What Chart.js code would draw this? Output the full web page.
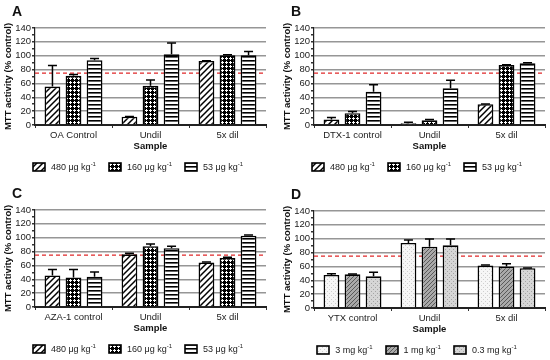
<!DOCTYPE html>
<html>
<head>
<meta charset="utf-8">
<script src="https://cdn.jsdelivr.net/npm/chart.js@4"></script>
<style>
body { margin: 0; background: #fff; font-family: 'Liberation Sans', Arial, sans-serif; }
#wrap { position: relative; width: 550px; height: 360px; }
.panel { position: absolute; width: 271px; height: 180px; }
.panel canvas.chart { position: absolute; left: 0; top: 0; }
.tag { position: absolute; left: 12px; top: 3px; font-weight: bold; font-size: 14px; line-height: 16px; color: #111; }
.legend { position: absolute; left: 0; width: 275px; top: 162px; display: flex; justify-content: center; gap: 12px; font-size: 9px; color: #222; }
.legend .item { display: flex; align-items: center; gap: 5px; white-space: nowrap; }
.legend sup { font-size: 6px; vertical-align: 4px; line-height: 0; }
</style>
</head>
<body>
<div id="wrap">
  <div class="panel" id="pA" style="left:0;top:0"><canvas class="chart" width="271" height="180"></canvas><div class="tag">A</div><div class="legend"></div></div>
  <div class="panel" id="pB" style="left:279px;top:0"><canvas class="chart" width="271" height="180"></canvas><div class="tag">B</div><div class="legend"></div></div>
  <div class="panel" id="pC" style="left:0;top:182px"><canvas class="chart" width="271" height="180"></canvas><div class="tag">C</div><div class="legend"></div></div>
  <div class="panel" id="pD" style="left:279px;top:183px"><canvas class="chart" width="271" height="180"></canvas><div class="tag">D</div><div class="legend"></div></div>
</div>
<script>
const thresholdValue = 75;
const yMax = 140;

const categoriesA = ['OA Control', 'Undil', '5x dil'];
const categoriesB = ['DTX-1 control', 'Undil', '5x dil'];
const categoriesC = ['AZA-1 control', 'Undil', '5x dil'];
const categoriesD = ['YTX control', 'Undil', '5x dil'];

const dosesABC = ['480 μg kg', '160 μg kg', '53 μg kg'];
const dosesD = ['3 mg kg', '1 mg kg', '0.3 mg kg'];

// one row per dose series, one value per sample category
const meansA = [[55.5, 12, 92.5], [71, 56.5, 100.5], [93.5, 102, 100.5]];
const errA   = [[30.5, 0.4, 0.4], [2, 8.5, 0.8], [2.5, 16.5, 5.5]];

const meansB = [[8, 2.4, 30], [17, 6.8, 86.5], [48, 53, 89]];
const errB   = [[2.7, 1.6, 0.3], [2.4, 1, 0.6], [10, 11.7, 1]];

const meansC = [[45.5, 76, 64.4], [42.6, 87.7, 70.7], [43.6, 84.8, 103]];
const errC   = [[8.5, 1.5, 0.6], [11.4, 3.3, 1], [6.8, 2.9, 1]];

const meansD = [[47.6, 93.8, 61.3], [48.6, 88.5, 59.8], [45.7, 90.4, 57.4]];
const errD   = [[2, 4.2, 0.7], [0.5, 11.2, 3.9], [5.8, 9.3, 0.3]];

const patternsABC = ['diag', 'check', 'hstripe'];
const patternsD = ['dotsLight', 'diagGray', 'dotsGray'];

const FONT = "'Liberation Sans', Arial, sans-serif";

function makePattern(kind) {
    const c = document.createElement('canvas');
    const g = c.getContext('2d');
    let s = 4;
    if (kind === 'diag') s = 6;
    c.width = s; c.height = s;
    if (kind === 'diag' || kind === 'diagGray') {
        g.fillStyle = kind === 'diag' ? '#fff' : '#a9a9a9';
        g.fillRect(0, 0, s, s);
        g.strokeStyle = kind === 'diag' ? '#000' : '#5a5a5a';
        g.lineWidth = kind === 'diag' ? 1.5 : 1;
        g.beginPath();
        g.moveTo(0, s); g.lineTo(s, 0);
        g.moveTo(-1, 1); g.lineTo(1, -1);
        g.moveTo(s - 1, s + 1); g.lineTo(s + 1, s - 1);
        g.stroke();
    } else if (kind === 'check') {
        // black ground with small white plus-shaped holes
        g.fillStyle = '#000';
        g.fillRect(0, 0, s, s);
        g.fillStyle = '#fff';
        g.fillRect(2, 1, 1, 3);
        g.fillRect(1, 2, 3, 1);
    } else if (kind === 'hstripe') {
        g.fillStyle = '#fff';
        g.fillRect(0, 0, s, s);
        g.fillStyle = '#000';
        g.fillRect(0, 0, s, 1.6);
    } else if (kind === 'dotsLight' || kind === 'dotsGray') {
        g.fillStyle = kind === 'dotsLight' ? '#f6f6f6' : '#d6d6d6';
        g.fillRect(0, 0, s, s);
        g.fillStyle = kind === 'dotsLight' ? '#cfcfcf' : '#a5a5a5';
        g.fillRect(0, 0, 1, 1);
        g.fillRect(2, 2, 1, 1);
    }
    return g.createPattern(c, 'repeat');
}

const errorBarPlugin = {
    id: 'errorBars',
    afterDatasetsDraw(chart) {
        const ctx = chart.ctx;
        const y = chart.scales.y;
        ctx.save();
        ctx.strokeStyle = '#000';
        ctx.lineWidth = 1.5;
        chart.data.datasets.forEach((ds, i) => {
            const meta = chart.getDatasetMeta(i);
            meta.data.forEach((bar, j) => {
                const top = y.getPixelForValue(ds.data[j] + ds.errors[j]);
                ctx.beginPath();
                ctx.moveTo(bar.x, bar.y);
                ctx.lineTo(bar.x, top);
                ctx.moveTo(bar.x - 4.5, top);
                ctx.lineTo(bar.x + 4.5, top);
                ctx.stroke();
            });
        });
        ctx.restore();
    }
};

const thresholdPlugin = {
    id: 'threshold',
    beforeDatasetsDraw(chart, args, opts) {
        const ctx = chart.ctx;
        const area = chart.chartArea;
        const py = chart.scales.y.getPixelForValue(opts.value);
        ctx.save();
        ctx.strokeStyle = '#e0282a';
        ctx.lineWidth = 1.3;
        ctx.setLineDash([4, 3]);
        ctx.beginPath();
        ctx.moveTo(area.left, py);
        ctx.lineTo(area.right, py);
        ctx.stroke();
        ctx.restore();
    }
};

function buildLegend(el, doses, kinds) {
    doses.forEach((label, i) => {
        const item = document.createElement('span');
        item.className = 'item';
        const sw = document.createElement('canvas');
        sw.width = 14; sw.height = 10;
        const g = sw.getContext('2d');
        g.fillStyle = makePattern(kinds[i]);
        g.fillRect(1, 1, 12, 8);
        g.strokeStyle = '#000';
        g.lineWidth = 1.6;
        g.strokeRect(1, 1, 12, 8);
        item.appendChild(sw);
        const txt = document.createElement('span');
        txt.innerHTML = label + '<sup>-1</sup>';
        item.appendChild(txt);
        el.appendChild(item);
    });
}

function makePanel(id, categories, means, errs, doses, kinds) {
    const panel = document.getElementById(id);
    const canvas = panel.querySelector('canvas.chart');
    buildLegend(panel.querySelector('.legend'), doses, kinds);

    new Chart(canvas.getContext('2d'), {
        type: 'bar',
        data: {
            labels: categories,
            datasets: means.map((vals, i) => ({
                label: doses[i],
                data: vals,
                errors: errs[i],
                backgroundColor: makePattern(kinds[i]),
                borderColor: '#000',
                borderWidth: 1.6,
                categoryPercentage: 0.82,
                barPercentage: 0.75
            }))
        },
        options: {
            responsive: false,
            maintainAspectRatio: false,
            animation: false,
            layout: { padding: { top: 28, left: 0, right: 5, bottom: 28 } },
            plugins: {
                legend: { display: false },
                tooltip: { enabled: false },
                threshold: { value: thresholdValue }
            },
            scales: {
                x: {
                    afterFit(s) { s.height = 27; },
                    ticks: { color: '#222', font: { family: FONT, size: 9.5 }, padding: 2 },
                    grid: { drawOnChartArea: false, tickColor: '#333', tickLength: 3, offset: true },
                    border: { color: '#222', width: 2 },
                    title: { display: true, text: 'Sample', color: '#111', font: { family: FONT, size: 9.5, weight: 'bold' }, padding: 0 }
                },
                y: {
                    min: 0,
                    max: yMax,
                    afterFit(s) { s.width = 35; },
                    ticks: {
                        stepSize: 10,
                        autoSkip: false,
                        color: '#222',
                        font: { family: FONT, size: 9.5 },
                        padding: 1,
                        callback: v => (v % 20 === 0 ? v : '')
                    },
                    grid: {
                        color: c => (c.tick && c.tick.value % 20 === 0 && c.tick.value > 0 ? '#969696' : 'rgba(0,0,0,0)'),
                        lineWidth: 1.5,
                        tickColor: '#333',
                        tickLength: 3
                    },
                    border: { color: '#222', width: 1.2 },
                    title: { display: true, text: 'MTT activity (% control)', color: '#111', font: { family: FONT, size: 9.5, weight: 'bold' }, padding: { top: 3, bottom: 0 } }
                }
            }
        },
        plugins: [thresholdPlugin, errorBarPlugin]
    });
}

makePanel('pA', categoriesA, meansA, errA, dosesABC, patternsABC);
makePanel('pB', categoriesB, meansB, errB, dosesABC, patternsABC);
makePanel('pC', categoriesC, meansC, errC, dosesABC, patternsABC);
makePanel('pD', categoriesD, meansD, errD, dosesD, patternsD);
</script>
</body>
</html>
